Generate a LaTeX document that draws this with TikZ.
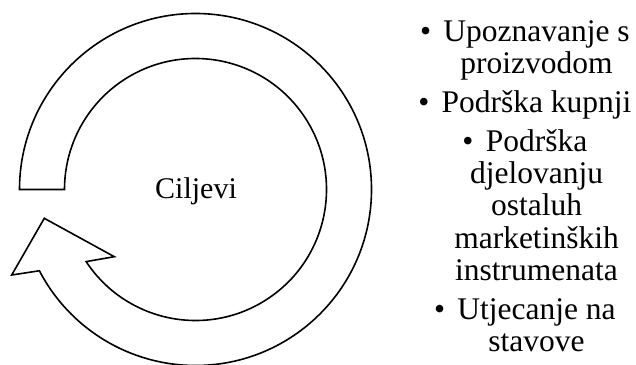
\documentclass[tikz,border=0pt]{standalone}
\usepackage{fontspec}
\setmainfont{Liberation Serif}
\usetikzlibrary{calc}
\begin{document}
\begin{tikzpicture}[x=1pt,y=1pt,
  ring/.style={draw=black,line width=1.6pt,line join=miter,fill=white},
  item/.style={anchor=base,inner sep=0pt,font=\fontsize{31.5}{32}\selectfont},
  center/.style={anchor=base,inner sep=0pt,font=\fontsize{30}{32}\selectfont}]
\useasboundingbox (0,0) rectangle (636,364);
\coordinate (C) at (195.5,174.5);
% circular arrow
\draw[ring] ($(C)+(180:176)$) coordinate (o1)
  arc[start angle=180,end angle=-152.5,radius=176] coordinate (o2)
  -- (11.7,89) coordinate (b1)
  -- (44.3,145.7) coordinate (tip)
  -- (114.3,107.3) coordinate (b2)
  -- ($(C)+(-146.6:131)$) coordinate (i2)
  arc[start angle=-146.6,end angle=180,radius=131] coordinate (i1)
  -- cycle;
\node[center] (cilj) at (196,165.5) {Ciljevi};
% list
\def\bul{\llap{•\hspace{0.39em}}}
\node[item] (l1) at (536.5,322) {\bul Upoznavanje s};
\node[item] (l2) at (536.5,290) {proizvodom};
\node[item] (l3) at (536.5,251) {\bul Podrška kupnji};
\node[item] (l4) at (536.5,212) {\bul Podrška};
\node[item] (l5) at (536.5,180) {djelovanju};
\node[item] (l6) at (536.5,148) {ostaluh};
\node[item] (l7) at (536.5,116) {marketinških};
\node[item] (l8) at (536.5,84) {instrumenata};
\node[item] (l9) at (536.5,45) {\bul Utjecanje na};
\node[item] (l10) at (536.5,13) {stavove};
\end{tikzpicture}
\end{document}
